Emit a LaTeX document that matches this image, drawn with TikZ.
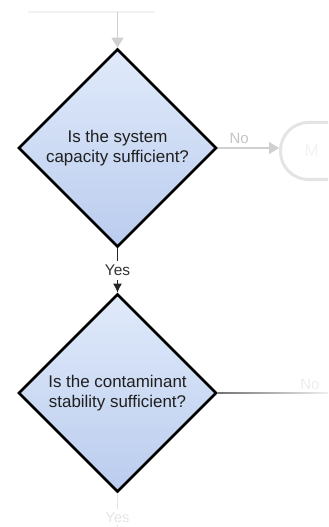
\documentclass[tikz,border=0pt]{standalone}
\usepackage{fontspec}
\setmainfont{Liberation Sans}
\usetikzlibrary{shapes.geometric,arrows.meta}
\definecolor{blueTop}{RGB}{224,234,250}
\definecolor{blueBot}{RGB}{186,204,238}
\definecolor{lineGrey}{RGB}{208,208,208}
\definecolor{labelGrey}{RGB}{196,196,196}
\definecolor{faintGrey}{RGB}{228,228,228}
\definecolor{veryFaint}{RGB}{242,242,242}
\begin{document}
\begin{tikzpicture}[x=1bp,y=1bp,
  decision/.style={diamond, draw=black, line width=2.7bp, minimum width=198bp,
    minimum height=198bp, inner sep=0pt, aspect=1, top color=blueTop,
    bottom color=blueBot, align=center, text=black!88,
    font=\fontsize{17}{20}\selectfont},
  terminal/.style={draw=faintGrey, line width=3bp, rounded corners=28bp,
    minimum height=57bp, minimum width=120bp, text width=80bp, align=left,
    inner xsep=24bp, text=veryFaint, font=\fontsize{17}{20}\selectfont},
  greyflow/.style={draw=lineGrey, line width=1.4bp, -{Triangle[length=10bp,width=12bp]}},
  yesflow/.style={draw=black!85, line width=1.2bp, -{Latex[length=9bp,width=9bp]}},
  nolabel/.style={text=labelGrey, font=\fontsize{15}{17}\selectfont},
  yeslabel/.style={fill=white, inner sep=4.5bp, text=black!80, font=\fontsize{15.5}{17}\selectfont}
]
\useasboundingbox (0,0) rectangle (328,-527);
\clip (0,0) rectangle (328,-527);

% faint element at the very top
\coordinate (topL) at (28,-12);
\coordinate (topR) at (155,-12);
\coordinate (topM) at (117.5,-12);
\draw[veryFaint, line width=1.5bp] (topL) -- (topR);

% decisions
\node[decision] (d1) at (117.5,-148) {Is the system\\capacity sufficient?};
\node[decision] (d2) at (117.5,-393) {Is the contaminant\\stability sufficient?};

% terminal on the right (cut off)
\node[terminal, anchor=west] (t1) at (279,-151) {M};

% connectors
\draw[greyflow] (topM) -- (d1.north);
\draw[greyflow] (d1.east) -- node[nolabel, above, pos=0.35] {No} (d1.east -| t1.west);
\draw[yesflow] (d1.south) -- node[yeslabel] {Yes} (d2.north);

% fading "No" connector from the second decision
\path (d2.east) ++(0,0.6) coordinate (s1);
\coordinate (e2) at (332,-393.6);
\shade[left color=black!55, right color=black!4] (s1) rectangle (e2);
\node[text=faintGrey!70, font=\fontsize{15}{17}\selectfont, above] (no2) at (310,-393) {No};

\coordinate (b2) at (117.5,-560);
\draw[faintGrey, line width=1.4bp] (d2.south) -- node[pos=0.36, fill=white, inner sep=3bp, text=faintGrey, font=\fontsize{14.5}{16}\selectfont] {Yes} (b2);
\end{tikzpicture}
\end{document}
